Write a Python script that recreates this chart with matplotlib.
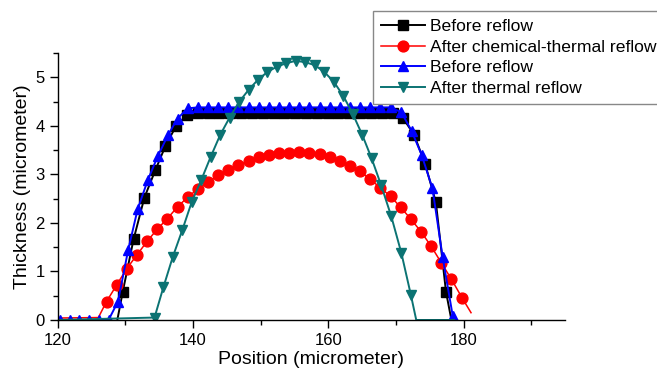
import matplotlib
matplotlib.use("Agg")
import matplotlib.pyplot as plt
from matplotlib.ticker import MultipleLocator

plt.rcParams['font.family'] = ['Liberation Sans', 'DejaVu Sans']

# profile 1: before reflow (squares)
sq_x = [128.8, 129.6, 131.2, 132.8, 134.4, 135.9, 137.5, 139.1, 140.7, 142.3, 143.9,
        145.5, 147.1, 148.7, 150.3, 151.9, 153.5, 155.1, 156.7, 158.3, 159.9, 161.5,
        163.1, 164.7, 166.3, 167.9, 169.5, 171.0, 172.7, 174.3, 175.9, 177.4, 178.2]
sq_y = [0.0, 0.58, 1.66, 2.52, 3.08, 3.58, 4.00, 4.22, 4.27, 4.27, 4.27,
        4.27, 4.27, 4.27, 4.27, 4.27, 4.27, 4.27, 4.27, 4.27, 4.27, 4.27,
        4.27, 4.27, 4.27, 4.27, 4.27, 4.17, 3.81, 3.22, 2.43, 0.58, 0.0]

# profile 2: after chemical-thermal reflow (circles)
ci_x = [120.0, 126.0, 127.2, 128.7, 130.2, 131.7, 133.2, 134.7, 136.2, 137.7, 139.2,
        140.7, 142.2, 143.7, 145.2, 146.7, 148.2, 149.7, 151.2, 152.7, 154.2, 155.7,
        157.2, 158.7, 160.2, 161.7, 163.2, 164.7, 166.2, 167.7, 169.2, 170.7, 172.2,
        173.7, 175.2, 176.7, 178.2, 179.8, 181.1]
ci_y = [0.04, 0.05, 0.38, 0.72, 1.06, 1.34, 1.62, 1.87, 2.09, 2.33, 2.53,
        2.70, 2.84, 2.98, 3.10, 3.19, 3.28, 3.35, 3.40, 3.43, 3.45, 3.46,
        3.44, 3.41, 3.36, 3.28, 3.17, 3.06, 2.90, 2.72, 2.55, 2.32, 2.08,
        1.82, 1.52, 1.18, 0.84, 0.45, 0.15]

# profile 3: before reflow (up triangles)
tu_x = [120.3, 121.8, 123.2, 124.6, 126.1, 127.5, 128.9, 130.4, 131.8, 133.3,
        134.8, 136.3, 137.7, 139.2, 140.7, 142.2, 143.7, 145.2, 146.7, 148.2,
        149.7, 151.2, 152.7, 154.2, 155.7, 157.2, 158.7, 160.2, 161.7, 163.2,
        164.7, 166.2, 167.7, 169.2, 170.8, 172.3, 173.8, 175.4, 176.9, 178.4]
tu_y = [0.0, 0.0, 0.0, 0.0, 0.0, 0.0, 0.38, 1.44, 2.28, 2.88,
        3.38, 3.81, 4.15, 4.36, 4.38, 4.38, 4.38, 4.38, 4.38, 4.38,
        4.38, 4.38, 4.38, 4.38, 4.38, 4.38, 4.38, 4.38, 4.38, 4.38,
        4.38, 4.38, 4.38, 4.38, 4.28, 3.90, 3.40, 2.71, 1.30, 0.08]

# profile 4: after thermal reflow (down triangles)
td_x = [120.0, 134.3, 135.6, 137.0, 138.4, 139.8, 141.2, 142.6, 144.0, 145.4, 146.8,
        148.2, 149.6, 151.0, 152.4, 153.8, 155.2, 156.6, 158.0, 159.4, 160.8,
        162.2, 163.6, 165.0, 166.4, 167.8, 169.3, 170.8, 172.2, 173.0, 178.6]
td_y = [0.0, 0.05, 0.67, 1.30, 1.85, 2.43, 2.88, 3.36, 3.81, 4.17, 4.49,
        4.74, 4.95, 5.11, 5.22, 5.29, 5.34, 5.31, 5.25, 5.11, 4.91,
        4.62, 4.25, 3.82, 3.33, 2.78, 2.14, 1.38, 0.52, 0.0, 0.0]

teal = '#0b7373'

fig = plt.figure(figsize=(6.57, 3.76), dpi=100)
ax = fig.add_axes([0.088, 0.149, 0.772, 0.710])

ax.plot(sq_x, sq_y, color='black', lw=1.4, marker='s', ms=6.5,
        markevery=slice(1, -1), label='Before reflow')
ax.plot(ci_x, ci_y, color='#ff0000', lw=1.1, marker='o', ms=7.8,
        markevery=slice(2, -1), label='After chemical-thermal reflow')
ax.plot(tu_x, tu_y, color='#0000ff', lw=1.4, marker='^', ms=7.8,
        label='Before reflow')
ax.plot(td_x, td_y, color=teal, lw=1.4, marker='v', ms=7.8,
        markevery=slice(1, -2), label='After thermal reflow')

ax.set_xlim(120, 195)
ax.set_ylim(0, 5.5)
ax.xaxis.set_major_locator(MultipleLocator(20))
ax.xaxis.set_minor_locator(MultipleLocator(10))
ax.yaxis.set_major_locator(MultipleLocator(1))
ax.yaxis.set_minor_locator(MultipleLocator(0.5))
ax.spines['top'].set_visible(False)
ax.spines['right'].set_visible(False)
for s in ('left', 'bottom'):
    ax.spines[s].set_linewidth(1.0)
ax.tick_params(which='major', direction='out', length=6, width=1, labelsize=12)
ax.tick_params(which='minor', direction='out', length=3.5, width=1)

ax.set_xlabel('Position (micrometer)', fontsize=14, labelpad=2)
ax.set_ylabel('Thickness (micrometer)', fontsize=14, labelpad=3)

leg = fig.legend(loc='upper left', bbox_to_anchor=(373 / 657, 1 - 11 / 376),
                 fontsize=12.6, handlelength=2.5, labelspacing=0.3,
                 handletextpad=0.3, borderpad=0.45, borderaxespad=0,
                 fancybox=False, edgecolor='#888888', framealpha=1)
leg.get_frame().set_linewidth(1.0)

fig.savefig('out.png', dpi=100)
